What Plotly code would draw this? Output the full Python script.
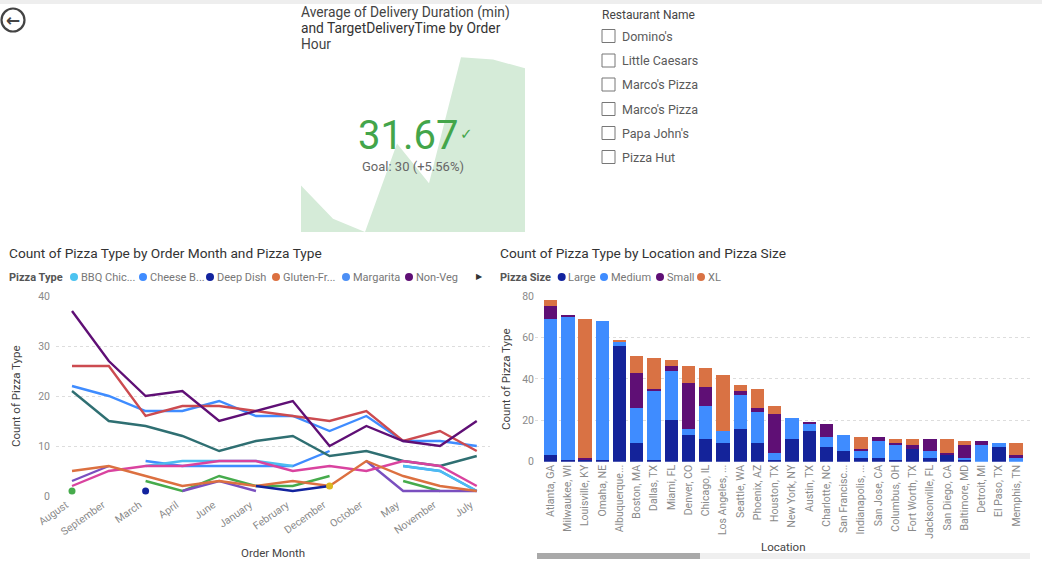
import plotly.graph_objects as go

# ---------- data ----------
months = ["August", "September", "March", "April", "June", "January", "February",
          "December", "October", "May", "November", "July"]
N = None
non_veg = [37, 27, 20, 21, 15, 17, 19, 10, 14, 11, 10, 15]
red_type = [26, 26, 16, 18, 18, 17, 16, 15, 17, 11, 13, 9]
cheese_burst = [22, 20, 17, 17, 19, 16, 16, 13, 16, 11, 11, 10]
teal_type = [21, 15, 14, 12, 9, 11, 12, 8, 9, 7, 6, 8]
gluten_free = [5, 6, 4, 2, 3, 2, 3, 2, 7, 4, 2, 1]
pink_type = [2, 5, 6, 6, 7, 7, 5, 6, 5, 7, 6, 2]
bbq_chicken = [N, N, 6, 7, 7, 7, 6, N, N, 6, 5, 1]
margarita = [N, N, 7, 6, 6, 6, 6, 9, N, 6, 5, 1]
violet_type = [3, 6, N, 1, 3, 1, N, N, 7, 1, 1, 1]
green_type = [1, N, 3, 1, 4, 2, 2, 4, N, 3, 1, N]
deep_dish = [N, N, 1, N, N, 2, 1, 2, N, N, N, N]
yellow_type = [N, N, N, N, N, N, N, 2, N, N, N, N]

locations = ["Atlanta, GA", "Milwaukee, WI", "Louisville, KY", "Omaha, NE", "Albuquerque...",
             "Boston, MA", "Dallas, TX", "Miami, FL", "Denver, CO", "Chicago, IL",
             "Los Angeles, ...", "Seattle, WA", "Phoenix, AZ", "Houston, TX", "New York, NY",
             "Austin, TX", "Charlotte, NC", "San Francisc...", "Indianapolis, ...", "San Jose, CA",
             "Columbus, OH", "Fort Worth, TX", "Jacksonville, FL", "San Diego, CA", "Baltimore, MD",
             "Detroit, MI", "El Paso, TX", "Memphis, TN"]
large = [3, 1, 1, 1, 56, 9, 1, 20, 13, 11, 9, 16, 9, 1, 11, 15, 7, 5, 2, 2, 1, 6, 2, 3, 1, 0, 7, 0]
medium = [66, 69, 0, 67, 2, 17, 33, 24, 3, 16, 6, 16, 15, 3, 10, 3, 5, 8, 3, 8, 7, 0, 3, 0, 1, 8, 2, 2]
small = [6, 1, 1, 0, 0, 17, 1, 2, 22, 9, 0, 2, 2, 19, 0, 1, 6, 0, 1, 2, 1, 2, 6, 1, 6, 2, 0, 1]
xl = [3, 0, 67, 0, 1, 8, 15, 3, 8, 9, 27, 3, 9, 4, 0, 0, 0, 0, 6, 0, 2, 3, 0, 7, 2, 0, 0, 6]

hours = [0, 1, 2, 3, 4, 5, 6, 7]
delivery = [30.1, 28.6, 28.0, 32.0, 30.2, 35.9, 35.8, 35.4]
restaurants = ["Domino's", "Little Caesars", "Marco's Pizza", "Marco's Pizza", "Papa John's", "Pizza Hut"]

W, H = 1042, 576
FONT = "Roboto"
def px(x): return x / W
def py(y): return 1 - y / H

fig = go.Figure()

# KPI area
fig.add_trace(go.Scatter(x=hours, y=delivery, mode="lines", line=dict(width=0), fill="tozeroy",
                         fillcolor="#d5ebd8", xaxis="x3", yaxis="y3", showlegend=False, hoverinfo="skip"))

# Line chart
line_series = [
    ("Margarita", margarita, "#3f8cff"), ("BBQ Chicken", bbq_chicken, "#4cbcf0"),
    ("Veggie", teal_type, "#2f6f72"), ("Thin Crust", green_type, "#46ab4c"),
    ("Stuffed Crust", violet_type, "#7a4fbf"), ("Sicilian", pink_type, "#d9439f"),
    ("Gluten-Free", gluten_free, "#dc7040"), ("Cheese Burst", cheese_burst, "#3f8cff"),
    ("Deep Dish", deep_dish, "#12239e"), ("Pepperoni", red_type, "#cc4b50"),
    ("Non-Veg", non_veg, "#5f0f75"),
]
for name, vals, col in line_series:
    fig.add_trace(go.Scatter(x=months, y=vals, name=name, mode="lines",
                             line=dict(color=col, width=2.4), xaxis="x", yaxis="y",
                             connectgaps=False, showlegend=False))
# single-point series shown as dots
for name, vals, col in [("Thin Crust", [v if i == 0 else N for i, v in enumerate(green_type)], "#46ab4c"),
                        ("Deep Dish", [v if i == 2 else N for i, v in enumerate(deep_dish)], "#12239e"),
                        ("Thai Chicken", yellow_type, "#dcb820")]:
    fig.add_trace(go.Scatter(x=months, y=vals, name=name, mode="markers",
                             marker=dict(color=col, size=7), xaxis="x", yaxis="y", showlegend=False))

# Stacked bars
for name, vals, col in [("Large", large, "#14239a"), ("Medium", medium, "#3f8cff"),
                        ("Small", small, "#5f0f75"), ("XL", xl, "#d97244")]:
    fig.add_trace(go.Bar(x=locations, y=vals, name=name, marker=dict(color=col, line=dict(width=0)),
                         width=0.78, xaxis="x2", yaxis="y2", showlegend=False))

shapes, ann = [], []
def text(x, y, s, size=10, color="#666666", anchor="left", bold=False, family=FONT, angle=0, height=None):
    ann.append(dict(xref="paper", yref="paper", x=px(x - 2 if anchor == "left" else x), y=py(y),
                    text=f"<b>{s}</b>" if bold else s,
                    showarrow=False, xanchor=anchor, yanchor="middle", textangle=angle, height=height,
                    font=dict(size=size, color=color, family=family)))
def dot(x, y, col, r=4):
    shapes.append(dict(type="circle", xref="paper", yref="paper", x0=px(x - r), x1=px(x + r),
                       y0=py(y + r), y1=py(y - r), fillcolor=col, line_width=0))

# Titles
text(9, 253, "Count of Pizza Type by Order Month and Pizza Type", 13.7, "#333333")
text(500, 253, "Count of Pizza Type by Location and Pizza Size", 13.7, "#333333")
text(301, 12, "Average of Delivery Duration (min)", 13.8, "#444444")
text(301, 28, "and TargetDeliveryTime by Order", 13.8, "#333333")
text(301, 44, "Hour", 13.8, "#444444")

# Axis titles
axis_title_color = "#444444"
text(273, 553, "Order Month", 11.5, axis_title_color, "center")
text(16, 396, "Count of Pizza Type", 11.5, axis_title_color, "center", angle=-90)
text(783, 547, "Location", 11.5, axis_title_color, "center")
text(506, 379, "Count of Pizza Type", 11.5, axis_title_color, "center", angle=-90)

# Legends
text(9, 277, "Pizza Type", 11, "#555555", bold=True)
for lx, col, s in [(74, "#4cc3f0", "BBQ Chic..."), (143, "#3f8cff", "Cheese B..."), (210, "#12239e", "Deep Dish"),
                   (276, "#dc7040", "Gluten-Fr..."), (346, "#4c8ff5", "Margarita"), (409, "#5f0f75", "Non-Veg")]:
    dot(lx, 277, col)
    text(lx + 6.5, 277, s, 11, "#777777")
text(479, 276, "▶", 8, "#333333", "center")
text(500, 277, "Pizza Size", 11, "#555555", bold=True)
for lx, col, s in [(561.7, "#12239e", "Large"), (604, "#3f8cff", "Medium"), (660, "#5f0f75", "Small"), (701, "#d97244", "XL")]:
    dot(lx, 277, col)
    text(lx + 6.5, 277, s, 11, "#777777")

# KPI texts
text(408, 134.5, "31.67", 40, "#43a54a", "center", height=40)
text(466, 134, "✓", 15, "#43a54a", "center", family="DejaVu Sans")
text(413, 166, "Goal: 30 (+5.56%)", 13, "#666666", "center")

# Slicer
text(602, 15, "Restaurant Name", 12, "#444444")
for ry, s in zip([36, 60.5, 84.5, 109, 133, 157], restaurants):
    shapes.append(dict(type="rect", xref="paper", yref="paper", x0=px(602), x1=px(615), y0=py(ry + 6.5), y1=py(ry - 6.5),
                       line=dict(color="#777777", width=1), fillcolor="white"))
    text(622, ry, s, 12.5, "#5a5a5a")

# Scrollbar
shapes.append(dict(type="rect", xref="paper", yref="paper", x0=px(537), x1=px(1030), y0=py(559), y1=py(553),
                   fillcolor="#efefef", line_width=0))
shapes.append(dict(type="rect", xref="paper", yref="paper", x0=px(537), x1=px(700), y0=py(559), y1=py(553),
                   fillcolor="#a9a9a9", line_width=0))

# Back button
shapes.append(dict(type="circle", xref="paper", yref="paper", x0=px(1.5), x1=px(24.5), y0=py(31.5), y1=py(8.5),
                   line=dict(color="#444444", width=2.2), fillcolor="white"))
text(13, 20, "←", 17, "#444444", "center", bold=True, family="DejaVu Sans")

# Top strip
shapes.append(dict(type="rect", xref="paper", yref="paper", x0=0, x1=1, y0=py(4), y1=1,
                   fillcolor="#eeeeee", line_width=0))

axis_tick = dict(color="#8a8a8a", size=10.5, family=FONT)
fig.update_layout(
    width=W, height=H, autosize=False, margin=dict(l=0, r=0, t=0, b=0),
    paper_bgcolor="white", plot_bgcolor="rgba(0,0,0,0)", barmode="stack", bargap=0.22,
    font=dict(family=FONT), shapes=shapes, annotations=ann,
    xaxis=dict(domain=[px(56), px(490)], range=[-0.435, 11.36], type="category", automargin=False,
               categoryorder="array", categoryarray=months, tickangle=-35, tickfont=axis_tick,
               ticklabelshift=-6, showgrid=False, zeroline=False, showline=False, ticks=""),
    yaxis=dict(domain=[py(496), py(296)], range=[0, 40], tickvals=[0, 10, 20, 30, 40], tickfont=axis_tick,
               ticklabelstandoff=5, automargin=False, gridcolor="#dddddd", griddash="dot", zeroline=False,
               showline=False, ticks=""),
    xaxis2=dict(domain=[px(535), px(1030)], range=[-0.9, 27.8], type="category", anchor="y2", automargin=False,
                categoryorder="array", categoryarray=locations, tickangle=-90, tickfont=axis_tick,
                showgrid=False, zeroline=False, showline=False, ticks=""),
    yaxis2=dict(domain=[py(461.7), py(296)], range=[0, 80], tickvals=[0, 20, 40, 60, 80], tickfont=axis_tick,
                anchor="x2", automargin=False, gridcolor="#dddddd", griddash="dot", zeroline=False,
                showline=False, ticks=""),
    xaxis3=dict(domain=[px(301), px(525)], range=[0, 7], visible=False, anchor="y3", automargin=False),
    yaxis3=dict(domain=[py(232), py(55)], range=[28, 36], visible=False, anchor="x3", automargin=False),
)
fig.write_html("out.html", config={"displayModeBar": False},
               post_script="document.body.style.margin='0';document.body.style.overflow='hidden';")
